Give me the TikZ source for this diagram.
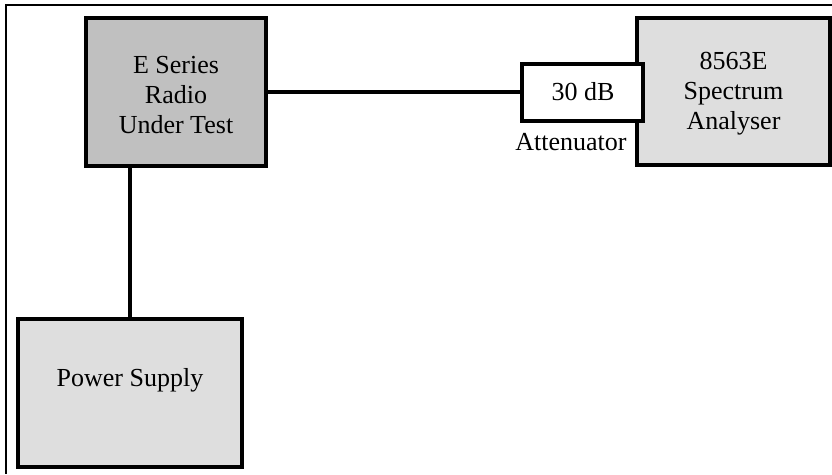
\documentclass[tikz,border=0pt]{standalone}
\usepackage{fontspec}
\setmainfont{Liberation Serif}
\begin{document}
\begin{tikzpicture}[x=1pt,y=-1pt,
  every node/.style={font=\fontsize{26}{30}\selectfont},
  box/.style={draw=black, line width=4pt, rectangle, inner sep=0pt, outer sep=0pt},
  wire/.style={draw=black, line width=3.5pt},
  frameline/.style={draw=black, line width=2.7pt},
  txt/.style={align=center, inner sep=0pt}]
\useasboundingbox (0,0) rectangle (832,474);
\fill[white] (0,0) rectangle (832,474);
\draw[frameline] (832,5) -- (6,5) -- (6,474);

\node[box, fill={rgb,255:red,192;green,192;blue,192}, minimum width=180pt, minimum height=148pt] (radio) at (176,92) {};
\node[txt] (radiotxt) at (176,95) {E Series\\Radio\\Under Test};

\node[box, fill={rgb,255:red,222;green,222;blue,222}, minimum width=193pt, minimum height=147pt] (spec) at (733.5,91.5) {};
\node[txt] (spectxt) at (733.5,94) {8563E\\Spectrum\\Analyser};

\node[box, fill=white, minimum width=121pt, minimum height=57pt] (att) at (582.5,92) {};
\node[txt] (atttxt) at (583,92) {30 dB};
\node[txt] (attlabel) at (571,142) {Attenuator};

\node[box, fill={rgb,255:red,222;green,222;blue,222}, minimum width=224pt, minimum height=148pt] (ps) at (130,393) {};
\node[txt] (pstxt) at (130,380) {Power Supply};

\draw[wire] (radio.east) -- (att.west);
\draw[wire] (ps.north) -- (ps.north |- radio.south);
\end{tikzpicture}
\end{document}
